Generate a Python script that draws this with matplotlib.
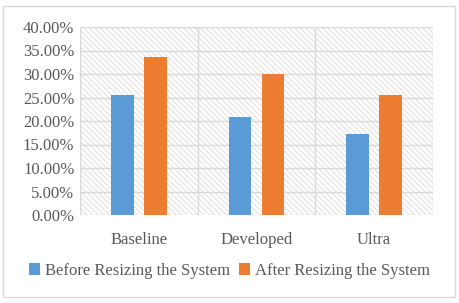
import numpy as np
import matplotlib.pyplot as plt
from matplotlib.patches import Rectangle
from matplotlib.ticker import PercentFormatter

categories = ['Baseline', 'Developed', 'Ultra']
before = [25.5, 20.85, 17.2]
after = [33.6, 30.0, 25.5]
series_names = ['Before Resizing the System', 'After Resizing the System']

plt.rcParams['font.family'] = ['Liberation Serif', 'DejaVu Serif']
plt.rcParams['hatch.color'] = '#d9d9d9'
plt.rcParams['hatch.linewidth'] = 0.6
text_col = '#595959'
grid_col = '#d9d9d9'

fig = plt.figure(figsize=(4.59, 3.03), dpi=100)
ax = fig.add_axes([80 / 459, 1 - 215 / 303, 353 / 459, 188 / 303])

# outer chart border
fig.patches.append(Rectangle((3 / 459, 1 - 297 / 303), 452 / 459, 291 / 303,
                             transform=fig.transFigure, fill=False,
                             edgecolor=grid_col, linewidth=1))

# hatched plot background
ax.add_patch(Rectangle((0, 0), 1, 1, transform=ax.transAxes, facecolor='white',
                       edgecolor=grid_col, hatch='\\\\\\\\\\\\', linewidth=0, zorder=0))

x = np.arange(len(categories))
w = 0.195
ax.bar(x - 0.14, before, w, color='#5b9bd5', label=series_names[0], zorder=3)
ax.bar(x + 0.14, after, w, color='#ed7d31', label=series_names[1], zorder=3)

ax.set_xlim(-0.5, 2.5)
ax.set_ylim(0, 40)
ax.set_yticks(np.arange(0, 41, 5))
ax.yaxis.set_major_formatter(PercentFormatter(decimals=2))
ax.set_xticks(x)
ax.set_xticklabels(categories)

for y in np.arange(0, 41, 5):
    ax.axhline(y, color=grid_col, linewidth=1, zorder=1)
for xv in [-0.5, 0.5, 1.5, 2.5]:
    ax.axvline(xv, color=grid_col, linewidth=1, zorder=1)

for s in ax.spines.values():
    s.set_visible(False)
ax.tick_params(axis='both', which='both', length=0, colors=text_col, labelsize=12)
ax.tick_params(axis='x', pad=12)
ax.tick_params(axis='y', pad=4)

leg = fig.legend(loc='center', bbox_to_anchor=(0.5, 1 - 271 / 303), ncol=2,
                 frameon=False, fontsize=12, handlelength=0.7, handleheight=0.7,
                 handletextpad=0.3, columnspacing=0.5)
for t in leg.get_texts():
    t.set_color(text_col)

fig.savefig('out.png', dpi=100)
